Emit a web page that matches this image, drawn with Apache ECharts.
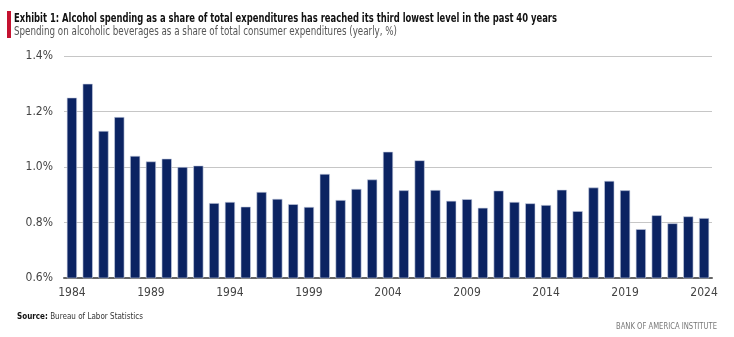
<!DOCTYPE html>
<html>
<head>
<meta charset="utf-8">
<script src="https://cdn.jsdelivr.net/npm/echarts@6/dist/echarts.min.js"></script>
<style>
html,body{margin:0;padding:0;background:#fff;}
#chart{width:734px;height:337px;}
</style>
</head>
<body>
<div id="chart"></div>
<script>
var years = [];
for (var y = 1984; y <= 2024; y++) years.push(String(y));
var shares = [1.25, 1.30, 1.13, 1.18, 1.04, 1.02, 1.03, 1.00, 1.005, 0.870,
  0.874, 0.857, 0.910, 0.885, 0.866, 0.856, 0.975, 0.881, 0.921, 0.955,
  1.055, 0.916, 1.024, 0.917, 0.878, 0.884, 0.853, 0.915, 0.874, 0.869,
  0.863, 0.918, 0.841, 0.926, 0.950, 0.916, 0.776, 0.826, 0.797, 0.822, 0.816];
var titleText = 'Exhibit 1: Alcohol spending as a share of total expenditures has reached its third lowest level in the past 40 years';
var subtitleText = 'Spending on alcoholic beverages as a share of total consumer expenditures (yearly, %)';
var sourceLabel = 'Source:';
var sourceText = ' Bureau of Labor Statistics';
var brandText = 'BANK OF AMERICA INSTITUTE';

var narrow = '"DejaVu Sans Condensed", "Liberation Sans Narrow", "Liberation Sans", sans-serif';
var ctx = document.createElement('canvas').getContext('2d');
function measure(text, font) { ctx.font = font; return ctx.measureText(text).width; }

var fTitle = 'bold 12.5px ' + narrow;
var fSub = '11.5px ' + narrow;
var fSrcB = 'bold 9px ' + narrow;
var fSrc = '9px ' + narrow;
var sTitle = 543 / measure(titleText, fTitle);
var sSub = 383 / measure(subtitleText, fSub);
var srcW = measure(sourceLabel, fSrcB) + measure(sourceText, fSrc);
var sSrc = 126 / srcW;
var sBrand = 101 / measure(brandText, fSrc);

var chart = echarts.init(document.getElementById('chart'), null, {renderer: 'canvas'});
chart.setOption({
  animation: false,
  backgroundColor: '#ffffff',
  graphic: [
    {type: 'rect', shape: {x: 7, y: 11, width: 4, height: 27}, style: {fill: '#c41230'}},
    {type: 'text', x: 14, y: 18.5, scaleX: sTitle, style: {text: titleText, font: fTitle, fill: '#111', textVerticalAlign: 'middle', verticalAlign: 'middle'}},
    {type: 'text', x: 14, y: 32, scaleX: sSub, style: {text: subtitleText, font: fSub, fill: '#555', textVerticalAlign: 'middle', verticalAlign: 'middle'}},
    {type: 'text', x: 17, y: 317, scaleX: sSrc, style: {text: sourceLabel, font: fSrcB, fill: '#111', textVerticalAlign: 'middle', verticalAlign: 'middle'}},
    {type: 'text', x: 17 + measure(sourceLabel, fSrcB) * sSrc, y: 317, scaleX: sSrc, style: {text: sourceText, font: fSrc, fill: '#333', textVerticalAlign: 'middle', verticalAlign: 'middle'}},
    {type: 'text', x: 616, y: 327, scaleX: sBrand, style: {text: brandText, font: fSrc, fill: '#777', textVerticalAlign: 'middle', verticalAlign: 'middle'}}
  ],
  grid: {left: 64, right: 22, top: 56, bottom: 59, containLabel: false},
  xAxis: {
    type: 'category',
    data: years,
    axisLine: {lineStyle: {color: '#666', width: 2}},
    axisTick: {show: false},
    axisLabel: {interval: 4, color: '#444', fontFamily: narrow, fontSize: 12, margin: 9}
  },
  yAxis: {
    type: 'value',
    min: 0.6, max: 1.4, interval: 0.2,
    axisLine: {show: false},
    axisTick: {show: false},
    splitLine: {lineStyle: {color: '#c6c6c6', width: 1}},
    axisLabel: {color: '#444', fontFamily: narrow, fontSize: 12, margin: 11,
      formatter: function (v) { return v.toFixed(1) + '%'; }}
  },
  series: [{
    type: 'bar',
    data: shares,
    barCategoryGap: '36%',
    itemStyle: {color: '#0b2362', borderColor: '#c9d0e2', borderWidth: 0.6}
  }]
});
</script>
</body>
</html>
